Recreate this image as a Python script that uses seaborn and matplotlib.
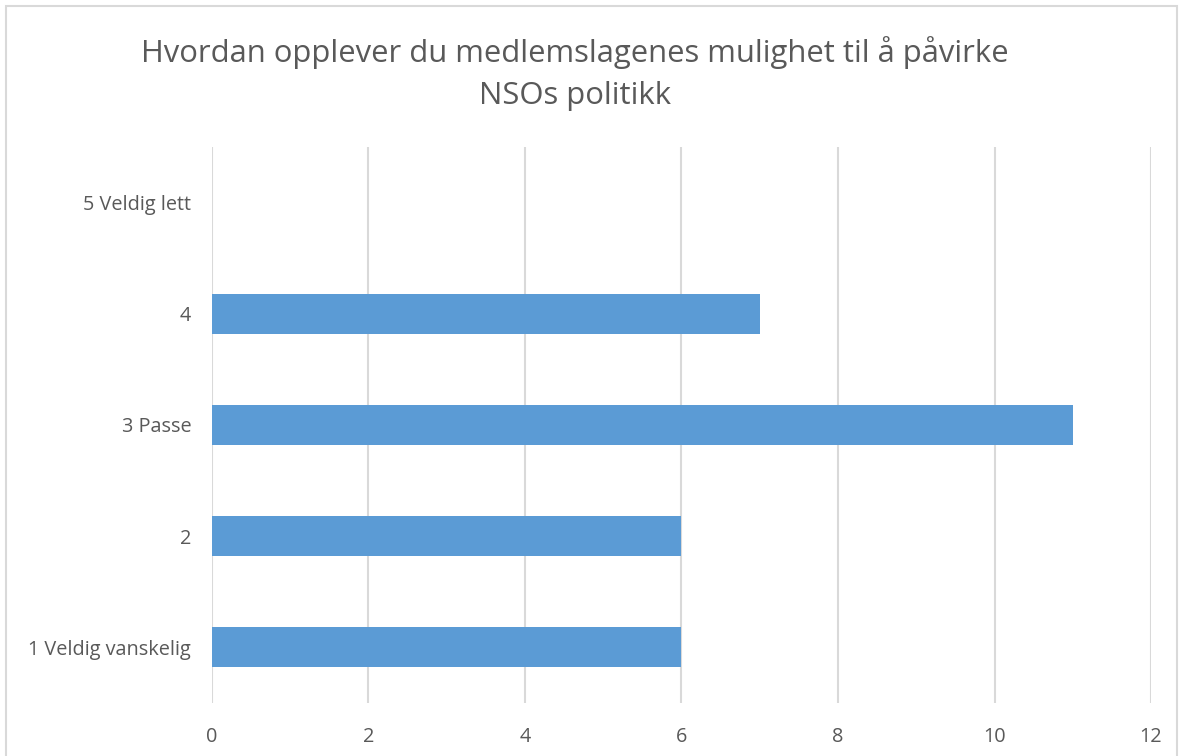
"""Spørreundersøkelse: medlemslagenes mulighet til å påvirke NSOs politikk."""
import matplotlib.pyplot as plt
import pandas as pd
import seaborn as sns
from matplotlib.patches import Rectangle

# svaralternativer fra topp til bunn, slik de står i diagrammet
CATEGORIES = ["5 Veldig lett", "4", "3 Passe", "2", "1 Veldig vanskelig"]
COUNTS = [0, 7, 11, 6, 6]
X_TICKS = [0, 2, 4, 6, 8, 10, 12]

TITLE = "Hvordan opplever du medlemslagenes mulighet til å påvirke\nNSOs politikk"
BAR_COLOR = "#5b9bd5"
GRID_COLOR = "#d9d9d9"
TEXT_COLOR = "#595959"


def main():
    df = pd.DataFrame({"svar": CATEGORIES, "antall": COUNTS})

    sns.set_theme(style="white")
    plt.rcParams["font.family"] = ["Open Sans", "DejaVu Sans"]

    fig = plt.figure(figsize=(11.81, 7.56), dpi=100)
    ax = fig.add_axes([0.1795, 0.0701, 0.7951, 0.7355])

    sns.barplot(data=df, x="antall", y="svar", order=CATEGORIES,
                color=BAR_COLOR, saturation=1, width=0.36, linewidth=0, ax=ax)

    ax.set_xlim(0, 12)
    ax.set_ylim(4.5, -0.5)
    ax.set_xticks(X_TICKS)
    ax.set_xlabel("")
    ax.set_ylabel("")
    ax.xaxis.grid(True, color=GRID_COLOR, linewidth=1.5)
    ax.set_axisbelow(True)
    for side in ["top", "right", "bottom", "left"]:
        ax.spines[side].set_visible(False)
    ax.tick_params(axis="both", length=0, labelsize=14.3, colors=TEXT_COLOR)
    ax.tick_params(axis="x", pad=17)
    ax.tick_params(axis="y", pad=15)

    fig.text(0.487, 0.903, TITLE, ha="center", va="center",
             fontsize=22.3, color=TEXT_COLOR, linespacing=1.5)

    # tynn grå ramme rundt hele diagrammet
    fig.patches.append(Rectangle((6 / 1181, -0.01), 1171 / 1181, 1 - 6 / 756 + 0.01,
                                 transform=fig.transFigure, fill=False,
                                 edgecolor="#d9d9d9", linewidth=1.5))

    fig.savefig("out.png", dpi=100)
    plt.close(fig)


if __name__ == "__main__":
    main()
